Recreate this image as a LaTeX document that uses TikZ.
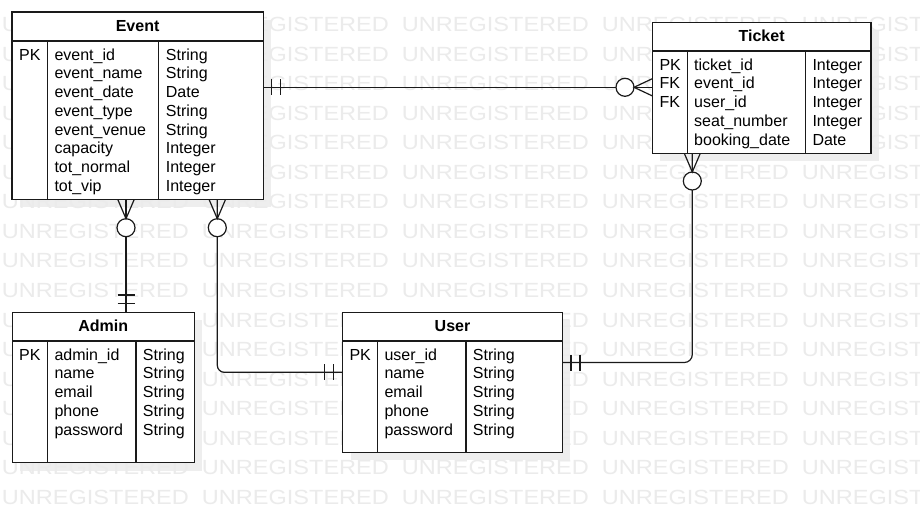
\documentclass[tikz,border=0pt]{standalone}
\usepackage{fontspec}
\setmainfont{Liberation Sans}
\definecolor{wmgray}{HTML}{EBEBEB}
\definecolor{shadowgray}{HTML}{EEEEEE}
\definecolor{ink}{HTML}{1A1A1A}

\tikzset{
  entity/.style={draw=ink, line width=1.3pt, fill=white, inner sep=0pt, outer sep=0pt, anchor=north west},
  divider/.style={draw=ink, line width=1.3pt},
  link/.style={draw=ink, line width=1.2pt},
  optcircle/.style={circle, draw=ink, line width=1.2pt, fill=white, minimum size=18pt, inner sep=0pt, outer sep=0pt},
  cell/.style={anchor=base west, inner sep=0pt, font=\fontsize{16}{18.75}\selectfont, text=black},
  etitle/.style={anchor=base, inner sep=0pt, font=\fontsize{16}{18.75}\selectfont\bfseries, text=black},
  wm/.style={anchor=west, inner sep=0pt, text=wmgray, font=\fontsize{20.5}{24}\selectfont},
  shade/.style={fill=shadowgray},
}

\begin{document}
\begin{tikzpicture}[x=1pt, y=-1pt]
\useasboundingbox (0,0) rectangle (920,512);
\fill[white] (0,0) rectangle (920,512);

% drop shadows of the entity boxes
\fill[shade] (20,20) rectangle (271.3,207.3);
\fill[shade] (660.3,30.3) rectangle (879,161.3);
\fill[shade] (20.3,320.3) rectangle (202.3,470.7);
\fill[shade] (350.7,320.3) rectangle (570.3,460.3);

% tiled background lettering
\begin{scope}
\clip (0,0) rectangle (920,512);
\foreach \r in {0,...,16}{
  \foreach \c in {0,...,4}{
    \node[wm] (wm-\r-\c) at ({1.7+200*\c},{24.5+29.55*\r}) {\scalebox{1.148}[1]{UNREGISTERED}};
  }
}
\end{scope}

% ---------- entity boxes ----------
\node[entity, minimum width=251.3pt, minimum height=187.3pt] (event) at (12,12) {};
\node[entity, minimum width=218.7pt, minimum height=131pt] (ticket) at (652.3,22.3) {};
\node[entity, minimum width=182pt, minimum height=150.4pt] (admin) at (12.3,312.3) {};
\node[entity, minimum width=219.6pt, minimum height=140pt] (user) at (342.7,312.3) {};

% header rules and column rules
\draw[divider] (12,41) -- (263.3,41);
\draw[divider] (47.7,41) -- (47.7,199.3);
\draw[divider] (158.3,41) -- (158.3,199.3);

\draw[divider] (652.3,51) -- (871,51);
\draw[divider] (687.7,51) -- (687.7,153.3);
\draw[divider] (805.7,51) -- (805.7,153.3);

\draw[divider] (12.3,341) -- (194.3,341);
\draw[divider] (47.7,341) -- (47.7,462.7);
\draw[divider] (136,341) -- (136,462.7);

\draw[divider] (342.7,341) -- (562.3,341);
\draw[divider] (377.3,341) -- (377.3,452.3);
\draw[divider] (466,341) -- (466,452.3);

% ---------- entity texts ----------
\node[etitle] (event-title) at (137.6,31) {Event};
\node[cell] (event-key) at (19,60) {PK};
\foreach \name/\kind [count=\i from 0] in {event\_id/String, event\_name/String, event\_date/Date, event\_type/String, event\_venue/String, capacity/Integer, tot\_normal/Integer, tot\_vip/Integer}{
  \node[cell] (event-a\i) at (54.3,{60+18.75*\i}) {\name};
  \node[cell] (event-t\i) at (165.7,{60+18.75*\i}) {\kind};
}

\node[etitle] (ticket-title) at (761.6,41) {Ticket};
\foreach \k [count=\i from 0] in {PK,FK,FK}{
  \node[cell] (ticket-k\i) at (659.3,{70+18.75*\i}) {\k};
}
\foreach \name/\kind [count=\i from 0] in {ticket\_id/Integer, event\_id/Integer, user\_id/Integer, seat\_number/Integer, booking\_date/Date}{
  \node[cell] (ticket-a\i) at (694,{70+18.75*\i}) {\name};
  \node[cell] (ticket-t\i) at (812.3,{70+18.75*\i}) {\kind};
}

\node[etitle] (admin-title) at (103.3,331) {Admin};
\node[cell] (admin-key) at (19,360) {PK};
\foreach \name/\kind [count=\i from 0] in {admin\_id/String, name/String, email/String, phone/String, password/String}{
  \node[cell] (admin-a\i) at (54.3,{360+18.75*\i}) {\name};
  \node[cell] (admin-t\i) at (142.7,{360+18.75*\i}) {\kind};
}

\node[etitle] (user-title) at (452.5,331) {User};
\node[cell] (user-key) at (349.3,360) {PK};
\foreach \name/\kind [count=\i from 0] in {user\_id/String, name/String, email/String, phone/String, password/String}{
  \node[cell] (user-a\i) at (384.3,{360+18.75*\i}) {\name};
  \node[cell] (user-t\i) at (472.7,{360+18.75*\i}) {\kind};
}

% ---------- relationships ----------
% Event (one) -- Ticket (zero or many)
\coordinate (yET) at (0,87.3);
\draw[link] (event.east |- yET) -- (ticket.west |- yET);
\node[optcircle] (cET) at (625,87.3) {};
\draw[link] ([yshift=8.6pt]ticket.west |- yET) -- (cET.east) -- ([yshift=-8.6pt]ticket.west |- yET);
\draw[link] ([shift={(8.4pt,8pt)}]event.east |- yET) -- ++(0,16);
\draw[link] ([shift={(17.4pt,8pt)}]event.east |- yET) -- ++(0,16);

% Event (zero or many) -- Admin (one)
\coordinate (xEA) at (126,0);
\draw[link] (event.south -| xEA) -- (admin.north -| xEA);
\node[optcircle] (cEA) at (126,227.7) {};
\draw[link] ([xshift=-8.3pt]event.south -| xEA) -- (cEA.north) -- ([xshift=8.3pt]event.south -| xEA);
\draw[link] ([shift={(-8.5pt,17.3pt)}]admin.north -| xEA) -- ++(17,0);
\draw[link] ([shift={(-8.5pt,9pt)}]admin.north -| xEA) -- ++(17,0);

% Event (zero or many) -- User (one)
\coordinate (xEU) at (217.3,0);
\coordinate (yEU) at (0,372.3);
\draw[link, rounded corners=7pt] (event.south -| xEU) |- (user.west |- yEU);
\node[optcircle] (cEU) at (217.3,227.7) {};
\draw[link] ([xshift=-8.3pt]event.south -| xEU) -- (cEU.north) -- ([xshift=8.3pt]event.south -| xEU);
\draw[link] ([shift={(-18.4pt,8pt)}]user.west |- yEU) -- ++(0,16);
\draw[link] ([shift={(-9.4pt,8pt)}]user.west |- yEU) -- ++(0,16);

% Ticket (zero or many) -- User (one)
\coordinate (xTU) at (692.3,0);
\coordinate (yTU) at (0,362.5);
\draw[link, rounded corners=8pt] (ticket.south -| xTU) |- (user.east |- yTU);
\node[optcircle] (cTU) at (692.3,181) {};
\draw[link] ([xshift=-8pt]ticket.south -| xTU) -- (cTU.north) -- ([xshift=8pt]ticket.south -| xTU);
\draw[link] ([shift={(8.7pt,8pt)}]user.east |- yTU) -- ++(0,16);
\draw[link] ([shift={(17.7pt,8pt)}]user.east |- yTU) -- ++(0,16);

\end{tikzpicture}
\end{document}
